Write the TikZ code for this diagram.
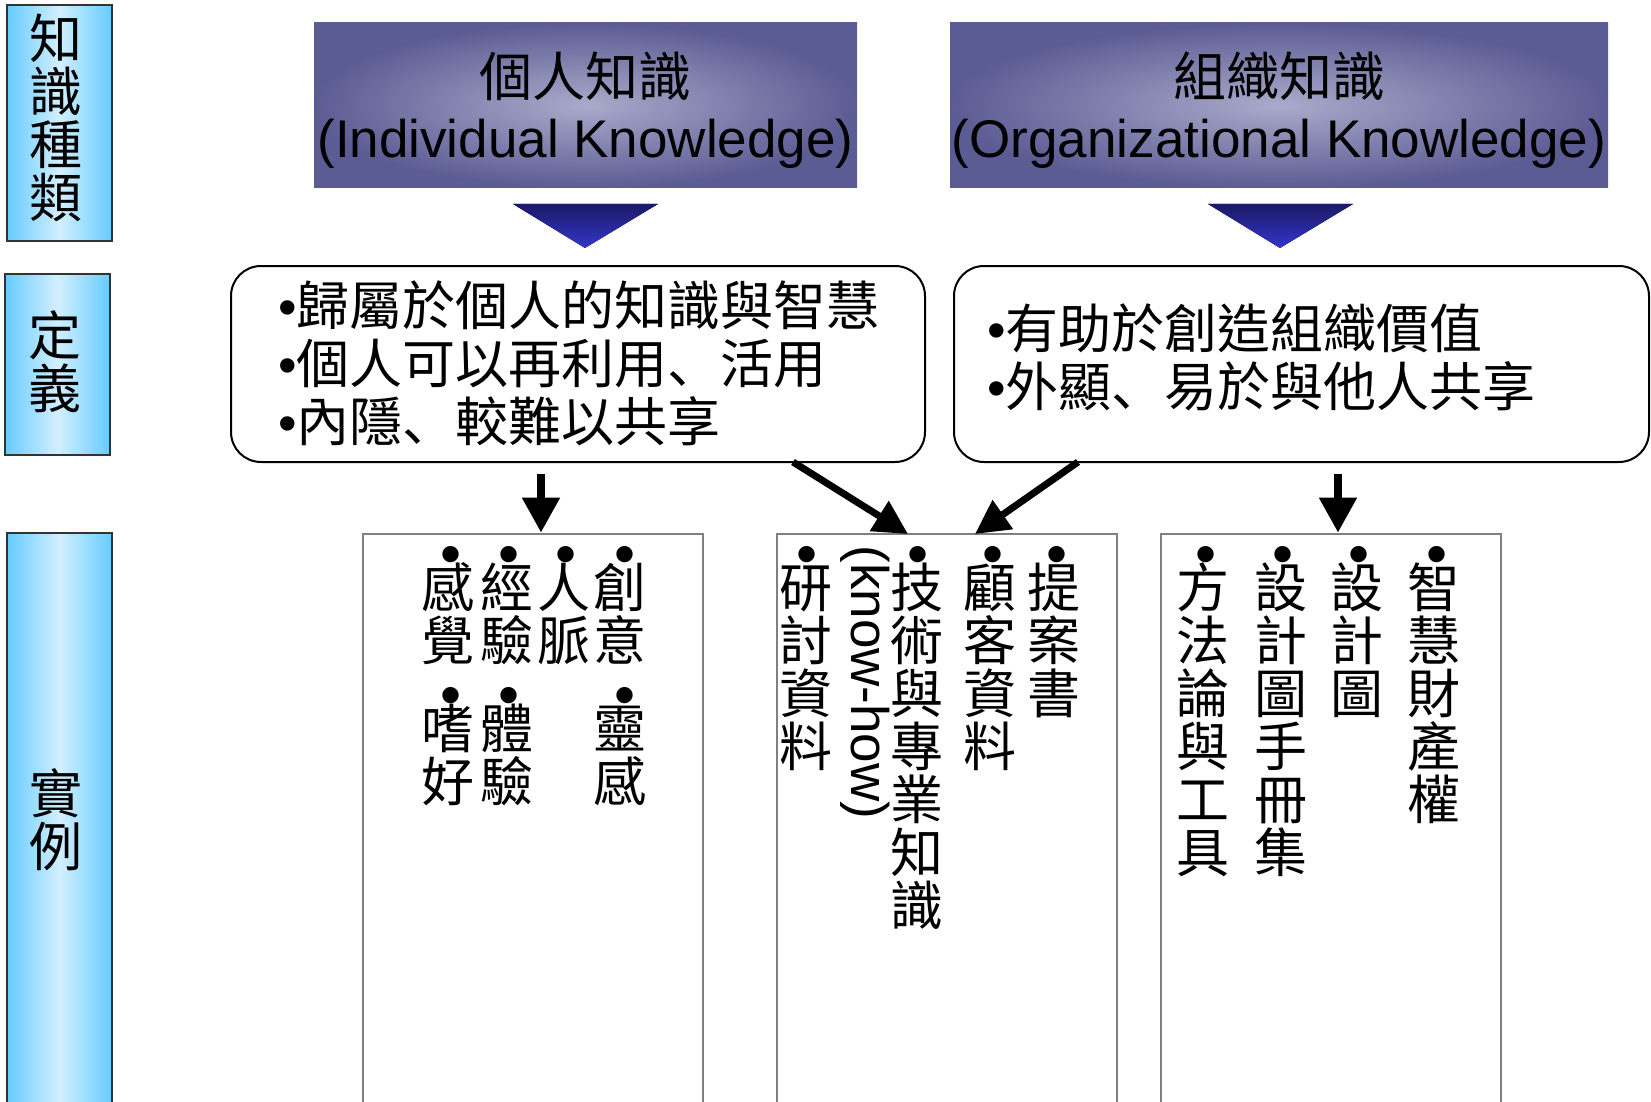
\documentclass[tikz,border=0pt]{standalone}
\usepackage{fontspec}
\setmainfont{Liberation Sans}
\newfontfamily\cjk{Noto Sans CJK TC}
\newfontfamily\cjkp{Noto Sans CJK JP}
\usetikzlibrary{fit,arrows.meta}
\definecolor{lbEdge}{HTML}{66CCFF}
\definecolor{lbMid}{HTML}{D2EFFF}
\definecolor{hdOut}{HTML}{5C5C94}
\definecolor{hdIn}{HTML}{AAAACB}
\definecolor{trTop}{HTML}{1A1A66}
\definecolor{trBot}{HTML}{3535CC}
\definecolor{exGray}{HTML}{808080}
\ExplSyntaxOn
\NewDocumentCommand \vstack { m }
  {
    \vbox
      {
        \baselineskip = 26.5pt
        \lineskip = 0pt
        \lineskiplimit = -100pt
        \tl_map_inline:nn { #1 }
          { \hbox { \rule [ -3.18pt ] { 0pt } { 26.5pt } ##1 } }
      }
  }
\ExplSyntaxOff
\newcommand\dou{{\cjkp 、}}
\tikzset{
  labbox/.style={draw=black!80, line width=1pt, inner sep=0pt,
    left color=lbEdge, right color=lbEdge, middle color=lbMid},
  hdrbox/.style={draw=none, inner sep=0pt, inner color=hdIn, outer color=hdOut},
  defbox/.style={draw=black, line width=1pt, rounded corners=15pt, inner sep=0pt, fill=white},
  exbox/.style={draw=exGray, line width=1.35pt, inner sep=0pt, fill=white},
  tri/.style={top color=trTop, bottom color=trBot},
  vcol/.style={anchor=north, inner sep=0pt, font=\cjk\fontsize{26.5pt}{26.5pt}\selectfont},
  vbul/.style={anchor=base, inner sep=0pt, font=\fontsize{30pt}{30pt}\selectfont},
  dtext/.style={anchor=base west, inner sep=0pt, font=\fontsize{26.5pt}{29pt}\selectfont},
  htext/.style={anchor=base, inner sep=0pt, font=\fontsize{26.5pt}{29pt}\selectfont},
  rtext/.style={anchor=base west, inner sep=0pt, rotate=-90, font=\fontsize{26.5pt}{29pt}\selectfont},
  arr/.style={line width=4pt, -{Triangle[width=18pt,length=17.5pt]}},
  darr/.style={line width=3.5pt, -{Triangle[width=17pt,length=17pt]}},
}
\begin{document}
\begin{tikzpicture}[x=0.5pt, y=-0.5pt]
\useasboundingbox (0,0) rectangle (1651,1102);
\clip (0,0) rectangle (1651,1102);

% left labels
\node[labbox, fit={(7,5) (112,241)}] (lab1) {};
\node[labbox, fit={(5,274) (110,455)}] (lab2) {};
\node[labbox, fit={(7,533) (112,1120)}] (lab3) {};
\node[vcol] (lab1t) at (56,11.5) {\vstack{知識種類}};
\node[vcol] (lab2t) at (55,308.5) {\vstack{定義}};
\node[vcol] (lab3t) at (56,766) {\vstack{實例}};

% headers
\node[hdrbox, fit={(314,23) (857,188)}] (hdrI) {};
\node[hdrbox, fit={(950,23) (1608,188)}] (hdrO) {};
\node[htext] (hdrI1) at (585.5,96.5) {\cjk 個人知識};
\node[htext] (hdrI2) at (585.5,158) {(Individual Knowledge)};
\node[htext] (hdrO1) at (1279,96.5) {\cjk 組織知識};
\node[htext] (hdrO2) at (1279,158) {(Organizational Knowledge)};

% triangles
\fill[tri] (513,204) -- (658,204) -- (585,248) -- cycle;
\fill[tri] (1208,204) -- (1353,204) -- (1280,248) -- cycle;

% definition boxes
\node[defbox, fit={(231,266) (925,462)}] (defI) {};
\node[defbox, fit={(954,266) (1649,462)}] (defO) {};
\node[dtext] (defI1) at (278,325) {•{\cjk 歸屬於個人的知識與智慧}};
\node[dtext] (defI2) at (278,383) {•{\cjk 個人可以再利用\dou 活用}};
\node[dtext] (defI3) at (278,441) {•{\cjk 內隱\dou 較難以共享}};
\node[dtext] (defO1) at (987,348) {•{\cjk 有助於創造組織價值}};
\node[dtext] (defO2) at (987,406) {•{\cjk 外顯\dou 易於與他人共享}};

% example boxes
\node[exbox, fit={(363,534) (703,1120)}] (exA) {};
\node[exbox, fit={(777,534) (1117,1120)}] (exB) {};
\node[exbox, fit={(1161,534) (1501,1120)}] (exC) {};

% box A
\node[vbul] (a1b) at (625,574) {•};
\node[vcol] (a1) at (620,560.5) {\vstack{創意}};
\node[vbul] (a2b) at (566,574) {•};
\node[vcol] (a2) at (564,560.5) {\vstack{人脈}};
\node[vbul] (a3b) at (509,574) {•};
\node[vcol] (a3) at (507,560.5) {\vstack{經驗}};
\node[vbul] (a4b) at (451,574) {•};
\node[vcol] (a4) at (448,560.5) {\vstack{感覺}};
\node[vbul] (a5b) at (625,715) {•};
\node[vcol] (a5) at (620,701.5) {\vstack{靈感}};
\node[vbul] (a6b) at (509,715) {•};
\node[vcol] (a6) at (507,701.5) {\vstack{體驗}};
\node[vbul] (a7b) at (451,715) {•};
\node[vcol] (a7) at (448,701.5) {\vstack{嗜好}};

% box B
\node[vbul] (b1b) at (1057,574) {•};
\node[vcol] (b1) at (1054,560.5) {\vstack{提案書}};
\node[vbul] (b2b) at (993,574) {•};
\node[vcol] (b2) at (990,560.5) {\vstack{顧客資料}};
\node[vbul] (b3b) at (918,574) {•};
\node[vcol] (b3) at (917,560.5) {\vstack{技術與專業知識}};
\node[rtext] (b3k) at (851,545) {(know-how)};
\node[vbul] (b4b) at (807,574) {•};
\node[vcol] (b4) at (806,560.5) {\vstack{研討資料}};

% box C
\node[vbul] (c1b) at (1437,574) {•};
\node[vcol] (c1) at (1434,560.5) {\vstack{智慧財產權}};
\node[vbul] (c2b) at (1359,574) {•};
\node[vcol] (c2) at (1357,560.5) {\vstack{設計圖}};
\node[vbul] (c3b) at (1283,574) {•};
\node[vcol] (c3) at (1281,560.5) {\vstack{設計圖手冊集}};
\node[vbul] (c4b) at (1206,574) {•};
\node[vcol] (c4) at (1203,560.5) {\vstack{方法論與工具}};

% arrows
\coordinate (aIs) at (541,474);
\coordinate (aOs) at (1338,474);
\coordinate (dIs) at (793,462);
\coordinate (dIe) at (908,534);
\coordinate (dOs) at (1078,462);
\coordinate (dOe) at (975,534);
\draw[arr] (aIs) -- (aIs |- exA.north);
\draw[arr] (aOs) -- (aOs |- exC.north);
\draw[darr] (dIs) -- (dIe);
\draw[darr] (dOs) -- (dOe);
\end{tikzpicture}
\end{document}
